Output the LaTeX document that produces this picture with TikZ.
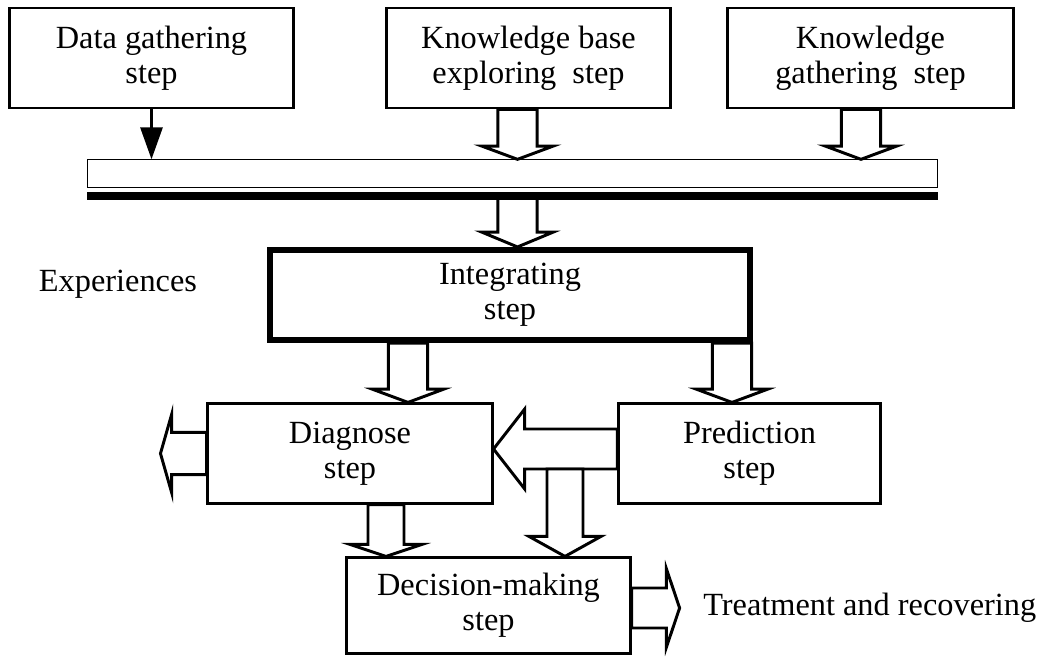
\documentclass[tikz,border=0pt]{standalone}
\usepackage{fontspec}
\setmainfont{Liberation Serif}
\usetikzlibrary{arrows.meta,calc,positioning}
\tikzset{
  stepbox/.style={rectangle, draw, line width=2.1pt, align=center, inner sep=0pt},
  lbl/.style    ={align=center, inner sep=0pt},
  bw/.store in=\blkw, bW/.store in=\blkW, bh/.store in=\blkh,
  bw=0.49cm, bW=0.89cm, bh=0.33cm,
  blk/.style    ={draw, fill=white, line width=2.1pt, line join=miter, to path={
      ($(\tikztostart)!\blkw!90:(\tikztotarget)$)
      -- ($($(\tikztotarget)!\blkh!(\tikztostart)$)!\blkw!90:(\tikztotarget)$)
      -- ($($(\tikztotarget)!\blkh!(\tikztostart)$)!\blkW!90:(\tikztotarget)$)
      -- (\tikztotarget)
      -- ($($(\tikztotarget)!\blkh!(\tikztostart)$)!\blkW!-90:(\tikztotarget)$)
      -- ($($(\tikztotarget)!\blkh!(\tikztostart)$)!\blkw!-90:(\tikztotarget)$)
      -- ($(\tikztostart)!\blkw!-90:(\tikztotarget)$) -- cycle}},
  thinflow/.style={-{Triangle[length=0.8cm,width=0.55cm]}, line width=2.1pt},
  rail/.style   ={line width=5.7pt}
}
\begin{document}
\begin{tikzpicture}[x=0.025cm, y=-0.025cm, font=\fontsize{23}{25}\selectfont]
\useasboundingbox (0,0) rectangle (1041,657);
\node[stepbox, minimum width=7.08cm, minimum height=2.5cm] (dg) at (151.5,58) {Data gathering\\step};
\node[stepbox, minimum width=7.08cm, minimum height=2.5cm] (kb) at (528.5,58) {Knowledge base\\exploring\ \ step};
\node[stepbox, minimum width=7.13cm, minimum height=2.5cm] (kg) at (870.5,58) {Knowledge\\gathering\ \ step};
\node[rectangle, draw, line width=0.8pt, minimum width=21.23cm, minimum height=0.68cm] (bar) at (512.5,173.5) {};
\node[stepbox, line width=4.3pt, minimum width=12cm, minimum height=2.25cm] (integ) at (510,295) {Integrating\\step};
\node[lbl] (exp) at (118,284) {Experiences};
\node[stepbox, minimum width=7.1cm, minimum height=2.48cm] (diag) at (350,453.5) {Diagnose\\step};
\node[stepbox, minimum width=6.53cm, minimum height=2.48cm] (pred) at (749.5,453.5) {Prediction\\step};
\node[stepbox, minimum width=7.08cm, minimum height=2.38cm] (dec) at (488.5,605.5) {Decision-making\\step};
\node[lbl, anchor=west] (treat) at (703,608) {Treatment and recovering};

\coordinate (kbout) at ($(kb.south)+(-11,0)$);
\coordinate (kgout) at ($(kg.south)+(-9.5,0)$);
\coordinate (railw) at ($(bar.south west)+(0,8)$);
\coordinate (raile) at ($(bar.south east)+(0,8)$);
\coordinate (i2d) at ($(diag.north)+(58,0)$);
\coordinate (i2p) at ($(pred.north)+(-17.5,0)$);
\coordinate (p2d) at ($(pred.west)+(0,-4.5)$);
\coordinate (shaftlow) at ($(p2d)+(0,20)$);
\coordinate (s2d) at ($(dec.north)+(76.5,0)$);
\coordinate (d2d) at ($(dec.north)+(-102.5,0)$);
\coordinate (diagout) at ($(diag.west)+(-46,0)$);
\coordinate (decout) at ($(dec.east)+(48,2.5)$);

\draw[thinflow] (dg.south) -- (dg.south |- bar.north);
\draw[blk] (kbout) to (kbout |- bar.north);
\draw[blk] (kgout) to (kgout |- bar.north);
\draw[blk, bh=0.37cm] (kbout |- railw) to (kbout |- integ.north);
\draw[rail] (railw) -- (raile);
\draw[blk] (i2d |- integ.south) to (i2d);
\draw[blk] (i2p |- integ.south) to (i2p);
\draw[blk, bw=0.5cm, bW=1cm, bh=0.78cm] (p2d) to (p2d -| diag.east);
\draw[blk, bw=0.45cm, bW=0.9cm, bh=0.5cm] (s2d |- shaftlow) to (s2d);
\draw[blk, bw=0.45cm, bW=0.9cm, bh=0.3cm] (d2d |- diag.south) to (d2d);
\draw[blk, bw=0.53cm, bW=0.98cm, bh=0.28cm] (diag.west) to (diagout);
\draw[blk, bw=0.5cm, bW=0.98cm, bh=0.33cm] ($(dec.east)+(0,2.5)$) to (decout);
\end{tikzpicture}
\end{document}
